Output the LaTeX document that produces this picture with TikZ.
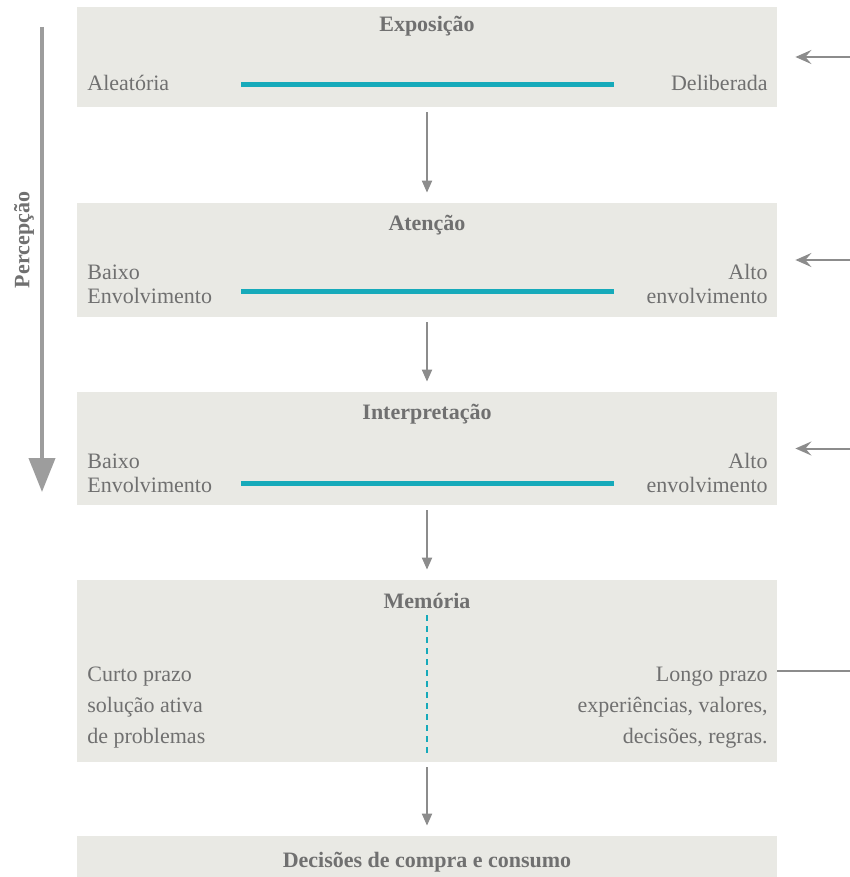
\documentclass[tikz,border=0pt]{standalone}
\usepackage{fontspec}
\setmainfont{Liberation Serif}
\usepackage{tikz}
\usetikzlibrary{arrows,arrows.meta}

\definecolor{boxgray}{RGB}{233,233,228}
\definecolor{txtgray}{RGB}{112,112,112}
\definecolor{arrgray}{RGB}{140,140,140}
\definecolor{scaleteal}{RGB}{22,170,186}

\tikzset{
	stage/.style={fill=boxgray,draw=none,minimum width=350pt,inner sep=0pt},
	title/.style={anchor=base,text=txtgray,font=\fontsize{11}{13}\selectfont\bfseries},
	lbl/.style={text=txtgray,font=\fontsize{11}{12}\selectfont,inner sep=0pt},
	flow/.style={draw=arrgray,line width=1pt,-{Triangle[length=6pt,width=5pt]},shorten <=2.5pt,shorten >=5pt},
	feed/.style={draw=arrgray,line width=1pt,-{Stealth[length=8pt,width=7pt,inset=3pt]},shorten >=9pt},
	scalebar/.style={draw=scaleteal,line width=2.5pt}
}

\begin{document}
\begin{tikzpicture}[x=0.5pt,y=-0.5pt]
	\useasboundingbox (0,0) rectangle (850,877);
	
	%BOXES
	\node[stage,minimum height=50pt]   (exp) at (427,57)    {};	%exposure
	\node[stage,minimum height=57pt]   (ate) at (427,260)   {};	%attention
	\node[stage,minimum height=56.5pt] (int) at (427,448.5) {};	%interpretation
	\node[stage,minimum height=91pt]   (mem) at (427,671)   {};	%memory
	\node[stage,minimum height=20.5pt] (dec) at (427,856.5) {};	%decisions
	
	%TITLES
	\node[title] (texp) at (427,32)  {Exposição};
	\node[title] (tate) at (427,231) {Atenção};
	\node[title] (tint) at (427,419) {Interpretação};
	\node[title] (tmem) at (427,608) {Memória};
	\node[title] (tdec) at (427,867) {Decisões de compra e consumo};
	
	%SCALES
	\draw[scalebar] (241,85)--(614,85);
	\draw[scalebar] (241,291)--(614,291);
	\draw[scalebar] (241,483)--(614,483);
	\draw[draw=scaleteal,line width=1pt,dash pattern=on 3pt off 2.5pt] (427,615)--(427,755);
	
	%LABELS (base = last line)
	\node[lbl,anchor=base west] (aleat) at (87,91)  {Aleatória};
	\node[lbl,anchor=base east] (delib) at (768,91) {Deliberada};
	%
	\node[lbl,anchor=base west,align=left]  (bx1) at (87,303)  {Baixo\\Envolvimento};
	\node[lbl,anchor=base east,align=right] (al1) at (768,303) {Alto\\envolvimento};
	%
	\node[lbl,anchor=base west,align=left]  (bx2) at (87,492)  {Baixo\\Envolvimento};
	\node[lbl,anchor=base east,align=right] (al2) at (768,492) {Alto\\envolvimento};
	%
	\node[lbl,anchor=base west,align=left,font=\fontsize{11}{15.5}\selectfont]  (curto) at (87,743)
		{Curto prazo\\solução ativa\\de problemas};
	\node[lbl,anchor=base east,align=right,font=\fontsize{11}{15.5}\selectfont] (longo) at (768,743)
		{Longo prazo\\experiências, valores,\\decisões, regras.};
	
	%DOWNWARD ARROWS
	\draw[flow] (exp)--(ate);
	\draw[flow] (ate)--(int);
	\draw[flow] (int)--(mem);
	\draw[flow] (mem)--(dec);
	
	%SIDE INPUTS
	\coordinate (in1) at (850,57);
	\coordinate (in2) at (850,260);
	\coordinate (in3) at (850,448.5);
	\coordinate (out) at (850,671);
	\draw[feed] (in1)--(exp.east);
	\draw[feed] (in2)--(ate.east);
	\draw[feed] (in3)--(int.east);
	\draw[draw=arrgray,line width=1pt] (mem.east)--(out);
	
	%PERCEPTION ARROW
	\coordinate (ptop) at (42,27);
	\coordinate (pbot) at (42,492);
	\draw[draw=arrgray!85,line width=2pt,-{Triangle[length=17pt,width=13pt]}] (ptop)--(pbot);
	\node[text=txtgray,rotate=90,font=\fontsize{11}{13}\selectfont\bfseries] (perc) at (24,240) {Percepção};
\end{tikzpicture}
\end{document}
